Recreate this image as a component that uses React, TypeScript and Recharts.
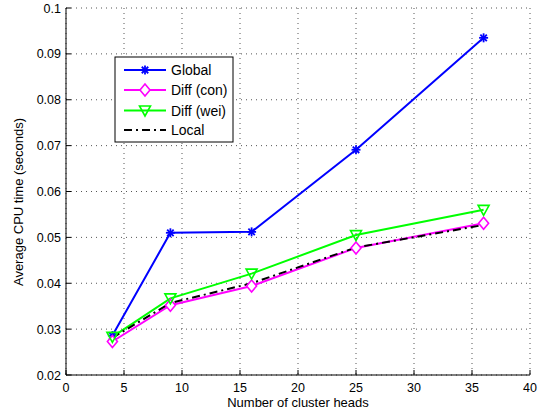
import React from 'react';
import { LineChart, Line, XAxis, YAxis, CartesianGrid, Customized } from 'recharts';

const clusterHeads = [4, 9, 16, 25, 36];
const globalTimes = [0.0286, 0.051, 0.0512, 0.0691, 0.0935];
const diffConTimes = [0.0273, 0.0352, 0.0394, 0.0477, 0.0531];
const diffWeiTimes = [0.0283, 0.0367, 0.0421, 0.0505, 0.056];
const localTimes = [0.0281, 0.0357, 0.04, 0.0478, 0.0527];

const xTicks = [0, 5, 10, 15, 20, 25, 30, 35, 40];
const yTicks = [0.02, 0.03, 0.04, 0.05, 0.06, 0.07, 0.08, 0.09, 0.1];

const seriesNames = ['Global', 'Diff (con)', 'Diff (wei)', 'Local'];

const data = clusterHeads.map((x, i) => ({
  x,
  g: globalTimes[i],
  c: diffConTimes[i],
  w: diffWeiTimes[i],
  l: localTimes[i],
}));

const FONT = '"Liberation Sans", Arial, Helvetica, sans-serif';
const BLUE = '#0000ff';
const MAGENTA = '#ff00ff';
const GREEN = '#00ff00';

const Star = ({ cx, cy }: { cx: number; cy: number }) => {
  const r = 4.5;
  const d = r * 0.72;
  return (
    <g stroke={BLUE} strokeWidth={1.8}>
      <line x1={cx - r} y1={cy} x2={cx + r} y2={cy} />
      <line x1={cx} y1={cy - r} x2={cx} y2={cy + r} />
      <line x1={cx - d} y1={cy - d} x2={cx + d} y2={cy + d} />
      <line x1={cx - d} y1={cy + d} x2={cx + d} y2={cy - d} />
    </g>
  );
};

const Diamond = ({ cx, cy }: { cx: number; cy: number }) => (
  <path
    d={`M${cx},${cy - 6} L${cx + 5},${cy} L${cx},${cy + 6} L${cx - 5},${cy} Z`}
    fill="#fff"
    stroke={MAGENTA}
    strokeWidth={1.6}
  />
);

const TriDown = ({ cx, cy }: { cx: number; cy: number }) => (
  <path
    d={`M${cx - 5.5},${cy - 4.5} L${cx + 5.5},${cy - 4.5} L${cx},${cy + 5.5} Z`}
    fill="none"
    stroke={GREEN}
    strokeWidth={1.6}
  />
);

const fmt = (v: number) => String(Number(v.toFixed(3)));

const XTickBottom = (props: any) => {
  const { x, y, payload } = props;
  return (
    <g>
      <line x1={x} x2={x} y1={y} y2={y - 5} stroke="#000" />
      <text x={x} y={y + 17} textAnchor="middle" fontSize={12.5} fill="#000" fontFamily={FONT}>
        {payload.value}
      </text>
    </g>
  );
};

const XTickTop = (props: any) => {
  const { x, y } = props;
  return <line x1={x} x2={x} y1={y} y2={y + 5} stroke="#000" />;
};

const YTickLeft = (props: any) => {
  const { x, y, payload } = props;
  return (
    <g>
      <line x1={x} x2={x + 5} y1={y} y2={y} stroke="#000" />
      <text x={x - 5} y={y + 4.5} textAnchor="end" fontSize={12.5} fill="#000" fontFamily={FONT}>
        {fmt(payload.value)}
      </text>
    </g>
  );
};

const YTickRight = (props: any) => {
  const { x, y } = props;
  return <line x1={x - 5} x2={x} y1={y} y2={y} stroke="#000" />;
};

const YLabel = () => (
  <text
    x={0}
    y={0}
    transform="translate(23,202) rotate(-90)"
    textAnchor="middle"
    fontSize={13}
    fill="#000"
    fontFamily={FONT}
  >
    Average CPU time (seconds)
  </text>
);

const LegendBox = () => {
  const left = 115;
  const top = 57;
  const rows = [70, 90, 110.5, 130];
  const lx1 = 124;
  const lx2 = 166;
  const mx = 145;
  const tx = 171;
  return (
    <g fontFamily={FONT}>
      <rect x={left} y={top} width={118} height={85} fill="#fff" stroke="#000" strokeWidth={1} />
      <line x1={lx1} x2={lx2} y1={rows[0]} y2={rows[0]} stroke={BLUE} strokeWidth={2} />
      <Star cx={mx} cy={rows[0]} />
      <line x1={lx1} x2={lx2} y1={rows[1]} y2={rows[1]} stroke={MAGENTA} strokeWidth={2} />
      <Diamond cx={mx} cy={rows[1]} />
      <line x1={lx1} x2={lx2} y1={rows[2]} y2={rows[2]} stroke={GREEN} strokeWidth={2} />
      <TriDown cx={mx} cy={rows[2]} />
      <line
        x1={lx1}
        x2={lx2}
        y1={rows[3]}
        y2={rows[3]}
        stroke="#000"
        strokeWidth={2}
        strokeDasharray="8 4 2 4"
      />
      {seriesNames.map((n, i) => (
        <text key={n} x={tx} y={rows[i] + 5} fontSize={14} fill="#000">
          {n}
        </text>
      ))}
    </g>
  );
};

export default function App() {
  return (
    <div style={{ position: 'absolute', left: 0, top: 0, background: '#fff' }}>
      <LineChart
        width={539}
        height={419}
        data={data}
        margin={{ top: 8, right: 9, bottom: 0, left: 8 }}
        style={{ fontFamily: FONT, background: '#fff' }}
      >
        <CartesianGrid stroke="#555" strokeDasharray="1 4" strokeWidth={1} />
        <XAxis
          dataKey="x"
          type="number"
          domain={[0, 40]}
          ticks={xTicks}
          height={44}
          tickSize={0}
          tickMargin={0}
          tickLine={false}
          axisLine={{ stroke: '#000', strokeWidth: 1 }}
          tick={<XTickBottom />}
          interval={0}
          label={{
            value: 'Number of cluster heads',
            position: 'insideBottom',
            offset: 12,
            fontSize: 13,
            fill: '#000',
          }}
        />
        <XAxis
          xAxisId="top"
          orientation="top"
          dataKey="x"
          type="number"
          domain={[0, 40]}
          ticks={xTicks}
          height={0}
          tickSize={0}
          tickMargin={0}
          tickLine={false}
          axisLine={{ stroke: '#000', strokeWidth: 1 }}
          tick={<XTickTop />}
          interval={0}
        />
        <YAxis
          type="number"
          domain={[0.02, 0.1]}
          ticks={yTicks}
          width={58}
          tickSize={0}
          tickMargin={0}
          tickLine={false}
          axisLine={{ stroke: '#000', strokeWidth: 1 }}
          tick={<YTickLeft />}
          interval={0}
          allowDataOverflow
          label={<YLabel />}
        />
        <YAxis
          yAxisId="right"
          orientation="right"
          type="number"
          domain={[0.02, 0.1]}
          ticks={yTicks}
          width={0}
          tickSize={0}
          tickMargin={0}
          tickLine={false}
          axisLine={{ stroke: '#000', strokeWidth: 1 }}
          tick={<YTickRight />}
          interval={0}
        />
        <Line
          dataKey="g"
          name={seriesNames[0]}
          stroke={BLUE}
          strokeWidth={2}
          isAnimationActive={false}
          dot={(p: any) => <Star key={`g${p.index}`} cx={p.cx} cy={p.cy} />}
          activeDot={false}
        />
        <Line
          dataKey="c"
          name={seriesNames[1]}
          stroke={MAGENTA}
          strokeWidth={2}
          isAnimationActive={false}
          dot={(p: any) => <Diamond key={`c${p.index}`} cx={p.cx} cy={p.cy} />}
          activeDot={false}
        />
        <Line
          dataKey="w"
          name={seriesNames[2]}
          stroke={GREEN}
          strokeWidth={2}
          isAnimationActive={false}
          dot={(p: any) => <TriDown key={`w${p.index}`} cx={p.cx} cy={p.cy} />}
          activeDot={false}
        />
        <Line
          dataKey="l"
          name={seriesNames[3]}
          stroke="#000"
          strokeWidth={2}
          strokeDasharray="8 4 2 4"
          isAnimationActive={false}
          dot={false}
          activeDot={false}
        />
        <Customized component={LegendBox} />
      </LineChart>
    </div>
  );
}
